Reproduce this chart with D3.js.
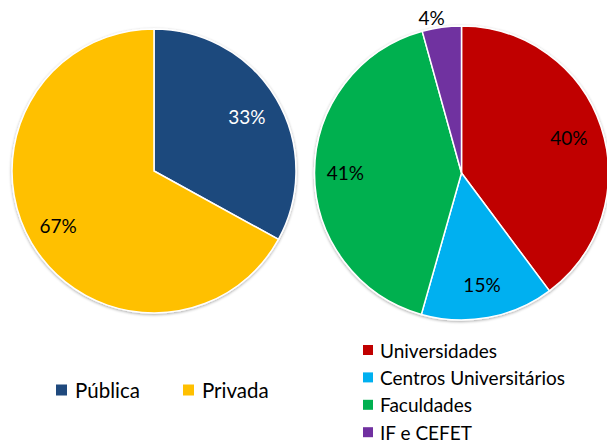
<!DOCTYPE html>
<html>
<head>
<meta charset="utf-8">
<script src="https://cdn.jsdelivr.net/npm/d3@7"></script>
<style>
  body { margin: 0; background: #fff; }
  text { font-family: Lato, "Open Sans", sans-serif; }
</style>
</head>
<body>
<div id="chart"></div>
<script>
const svgWidth = 607
const svgHeight = 444

// Left pie - tipo de rede
const redeLabels = ["Pública", "Privada"]
const redeValues = [33, 67]
const redeColors = ["#1F497D", "#FFC000"]
const redeTextColors = ["#fff", "#000"]

// Right pie - organização acadêmica
const orgLabels = ["Universidades", "Centros Universitários", "Faculdades", "IF e CEFET"]
const orgValues = [39.8, 14.6, 41.3, 4.3]
const orgColors = ["#C00000", "#00B0F0", "#00B050", "#7030A0"]

let svg = d3
  .select("#chart")
  .append("svg")
  .attr("width", svgWidth)
  .attr("height", svgHeight)

let defs = svg.append("defs")
let shadow = defs
  .append("filter")
  .attr("id", "shadow")
  .attr("x", "-10%")
  .attr("y", "-10%")
  .attr("width", "120%")
  .attr("height", "120%")
shadow.append("feGaussianBlur").attr("in", "SourceAlpha").attr("stdDeviation", 1.5)
shadow.append("feOffset").attr("dx", 0).attr("dy", 1).attr("result", "blur")
shadow.append("feComponentTransfer").append("feFuncA").attr("type", "linear").attr("slope", 0.35)
let merge = shadow.append("feMerge")
merge.append("feMergeNode")
merge.append("feMergeNode").attr("in", "SourceGraphic")

let pie = d3.pie().sort(null).value(d => d)

/**
 * Draws one pie with its slice labels.
 **/
function drawPie(values, colors, cx, cy, r, labelFn) {
  let g = svg.append("g").attr("transform", `translate(${cx}, ${cy})`)
  let arc = d3.arc().innerRadius(0).outerRadius(r)
  let arcs = pie(values)
  let total = d3.sum(values)

  g.append("g")
    .attr("filter", "url(#shadow)")
    .selectAll("path")
    .data(arcs)
    .enter()
    .append("path")
    .attr("d", arc)
    .attr("fill", (d, i) => colors[i])
    .attr("stroke", "#fff")
    .attr("stroke-width", 1.5)

  arcs.forEach((d, i) => {
    let pct = Math.round((d.value / total) * 100)
    let opt = labelFn(d, i, pct)
    let la = d3.arc().innerRadius(r * opt.k).outerRadius(r * opt.k)
    let [x, y] = la.centroid(d)
    g.append("text")
      .attr("x", x + (opt.dx || 0))
      .attr("y", y + (opt.dy || 0))
      .attr("text-anchor", "middle")
      .attr("dominant-baseline", "central")
      .attr("font-size", 19)
      .attr("fill", opt.color)
      .text(pct + "%")
  })
}

drawPie(redeValues, redeColors, 154, 171, 142, (d, i) => ({
  k: 0.76,
  color: redeTextColors[i],
  dx: i === 1 ? -3 : 0
}))

drawPie(orgValues, orgColors, 461.5, 173, 147, (d, i, pct) =>
  pct < 5
    ? { k: 1.06, color: "#000", dx: -9, dy: -1 }
    : { k: 0.77, color: "#000", dx: i === 2 ? -3 : 0 }
)

// Legend - left
let legendLeft = svg.append("g").attr("transform", "translate(56, 390)")
let leftX = [0, 127]
redeLabels.forEach((label, i) => {
  let item = legendLeft.append("g").attr("transform", `translate(${leftX[i]}, 0)`)
  item.append("rect").attr("x", 0).attr("y", -5.5).attr("width", 11).attr("height", 11).attr("fill", redeColors[i])
  item.append("text")
    .attr("x", 19)
    .attr("y", 0)
    .attr("dominant-baseline", "central")
    .attr("font-size", 20.5)
    .attr("fill", "#000")
    .text(label)
})

// Legend - right
let legendRight = svg.append("g").attr("transform", "translate(363, 350)")
orgLabels.forEach((label, i) => {
  let item = legendRight.append("g").attr("transform", `translate(0, ${i * 27.4})`)
  item.append("rect").attr("x", 0).attr("y", -5).attr("width", 10).attr("height", 10).attr("fill", orgColors[i])
  item.append("text")
    .attr("x", 17)
    .attr("y", 0)
    .attr("dominant-baseline", "central")
    .attr("font-size", 19)
    .attr("fill", "#000")
    .text(label)
})
</script>
</body>
</html>
